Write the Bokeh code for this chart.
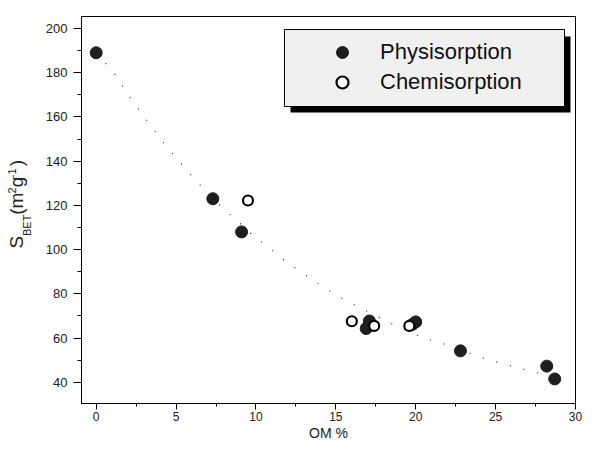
from bokeh.plotting import figure
from bokeh.models import (Range1d, SingleIntervalTicker, Legend, LegendItem,
                          BoxAnnotation, Title)
from bokeh.embed import file_html
from bokeh.resources import INLINE

# ---- data ----
phys_x = [0, 7.3, 9.1, 16.9, 17.1, 19.8, 20.0, 22.8, 28.2, 28.7]
phys_y = [189, 123, 108, 64.3, 67.7, 66.2, 67.3, 54.2, 47.3, 41.5]

chem_x = [9.5, 16.0, 17.4, 19.6]
chem_y = [122.2, 67.6, 65.5, 65.5]

trend_x = [0, 1.1, 2.1, 3.0, 4.4, 5.9, 6.9, 7.9, 8.9, 9.8, 10.8, 11.8, 13.7,
           14.7, 15.6, 18.5, 20.5, 21.5, 24.4, 25.4, 26.4, 28.3]
trend_y = [189, 180, 169, 160, 146.5, 134, 126, 119, 112.5, 106.5, 101, 95,
           85.5, 81, 77, 66.5, 60, 58, 50.5, 48.5, 46.5, 43]

series_labels = ["Physisorption", "Chemisorption"]
x_title = "OM %"
x_ticks_interval = 5
y_ticks_interval = 20

FONT = "Liberation Sans"
NB = "\u00a0"

p = figure(width=585, height=443, output_backend="svg", toolbar_location=None,
           x_range=Range1d(-0.92, 30), y_range=Range1d(30.4, 205.4),
           min_border_left=81, min_border_right=10, min_border_top=16,
           min_border_bottom=38)
p.background_fill_color = "white"
p.border_fill_color = "white"
p.outline_line_color = "black"
p.outline_line_width = 1
p.grid.visible = False

p.xaxis.ticker = SingleIntervalTicker(interval=x_ticks_interval, num_minor_ticks=2)
p.yaxis.ticker = SingleIntervalTicker(interval=y_ticks_interval, num_minor_ticks=2)
for ax in (p.xaxis[0], p.yaxis[0]):
    ax.axis_line_color = "black"
    ax.axis_line_width = 1
    ax.major_tick_in = 0
    ax.minor_tick_in = 0
    ax.major_tick_line_color = "black"
    ax.minor_tick_line_color = "black"
    ax.major_label_text_font = FONT
    ax.major_label_text_color = "#222222"
    ax.axis_label_text_font = FONT
    ax.axis_label_text_font_style = "normal"
    ax.axis_label_text_color = "#222222"

xa = p.xaxis[0]
xa.major_tick_out = 6
xa.minor_tick_out = 3
xa.major_label_text_font_size = "12px"
xa.major_label_standoff = 2
xa.axis_label = x_title
xa.axis_label_text_font_size = "14px"
xa.axis_label_standoff = 1

ya = p.yaxis[0]
ya.major_tick_out = 8
ya.minor_tick_out = 4
ya.major_label_text_font_size = "13px"
ya.major_label_standoff = 6
# subscript part of the y title: S_BET(m^2 g^-1)
ya.axis_label = "BET" + NB * 10
ya.axis_label_text_font_size = "11px"
ya.axis_label_standoff = 10

# main and superscript parts of the y title
p.add_layout(Title(text="S" + NB * 4 + "(m" + NB + "g" + NB * 2 + ")",
                   text_font=FONT, text_font_size="19px",
                   text_font_style="normal", text_color="#222222",
                   align="left", offset=155, standoff=-18,
                   vertical_align="bottom"), "left")
p.add_layout(Title(text=NB * 18 + "2" + NB * 3 + "-1",
                   text_font=FONT, text_font_size="11px",
                   text_font_style="normal", text_color="#222222",
                   align="left", offset=155, standoff=-11,
                   vertical_align="bottom"), "left")

# trend line (dotted)
p.line(trend_x, trend_y, line_color="#2a2a2a", line_width=1.2, line_dash="1 13")

r_phys = p.scatter(phys_x, phys_y, marker="circle", size=12,
                   fill_color="#1e1e1e", line_color="#1e1e1e", line_width=1)
r_chem = p.scatter(chem_x, chem_y, marker="circle", size=10,
                   fill_color="white", line_color="black", line_width=2.2)

# legend frame with shadow (screen units relative to the frame)
p.add_layout(BoxAnnotation(left=209, right=489, top=367, bottom=291,
                           left_units="screen", right_units="screen",
                           top_units="screen", bottom_units="screen",
                           fill_color="black", fill_alpha=1, line_alpha=0,
                           level="overlay"))
p.add_layout(BoxAnnotation(left=203, right=483, top=374, bottom=297,
                           left_units="screen", right_units="screen",
                           top_units="screen", bottom_units="screen",
                           fill_color="#f0f0f0", fill_alpha=1,
                           line_color="black", line_width=1, line_alpha=1,
                           level="overlay"))

legend = Legend(items=[LegendItem(label=series_labels[0], renderers=[r_phys]),
                       LegendItem(label=series_labels[1], renderers=[r_chem])],
                location=(246, 306), orientation="vertical",
                background_fill_alpha=0, border_line_alpha=0,
                padding=0, margin=0, spacing=-2,
                glyph_width=30, glyph_height=30, label_height=24,
                label_standoff=23,
                label_text_font=FONT, label_text_font_size="22px",
                label_text_color="#111111")
p.add_layout(legend)

open("out.html", "w").write(file_html(p, INLINE))
